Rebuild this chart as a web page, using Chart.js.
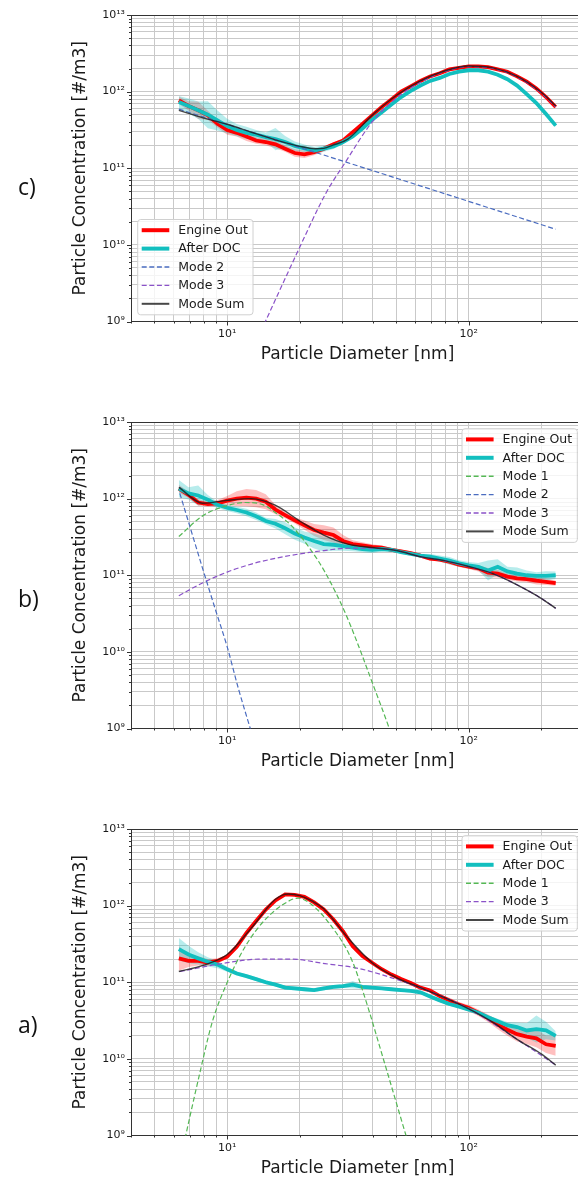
<!DOCTYPE html>
<html>
<head>
<meta charset="utf-8">
<script src="https://cdn.jsdelivr.net/npm/chart.js@4.4.1/dist/chart.umd.min.js"></script>
<style>
  html, body { margin:0; padding:0; background:#fff; overflow:hidden; }
  body { width:578px; height:1180px; position:relative; }
  .panel { position:absolute; left:0; }
  .tag { position:absolute; left:18px; font-family:"Open Sans", sans-serif; font-size:23px; color:#111; }
</style>
</head>
<body>
<div class="panel" style="top:0px"><canvas id="chartC" width="590" height="372"></canvas></div>
<div class="panel" style="top:407px"><canvas id="chartB" width="590" height="372"></canvas></div>
<div class="panel" style="top:814px"><canvas id="chartA" width="590" height="372"></canvas></div>
<div class="tag" style="top:170px">c)</div>
<div class="tag" style="top:582px">b)</div>
<div class="tag" style="top:1008px">a)</div>
<script>
// particle diameters [nm] of the measured spectra
const diam = [6.31, 6.92, 7.59, 8.32, 9.12, 10.0, 10.96, 12.02, 13.18, 14.45, 15.85, 17.38, 19.05, 20.89, 22.91, 25.12, 27.54, 30.2, 33.11, 36.31,
  39.81, 43.65, 47.86, 52.48, 57.54, 63.1, 69.18, 75.86, 83.18, 91.2, 100, 109.6, 120.2, 131.8, 144.5, 158.5, 173.8, 190.5, 208.9, 229.1];
const gridD = [6.31, 7.94, 10, 12.6, 15.8, 20, 25.1, 31.6, 39.8, 50.1, 63.1, 79.4, 100, 125.9, 158.5, 199.5, 229.1];

// ---- panel c ----
const cEngineOut = [7.7e11, 6.5e11, 5.7e11, 4.9e11, 3.8e11, 3.15e11, 2.9e11, 2.6e11, 2.3e11, 2.2e11, 2.05e11, 1.8e11, 1.58e11, 1.52e11, 1.62e11, 1.8e11, 2.05e11, 2.3e11, 2.95e11, 3.8e11,
  4.9e11, 6.3e11, 7.9e11, 1.0e12, 1.17e12, 1.38e12, 1.58e12, 1.74e12, 1.95e12, 2.04e12, 2.14e12, 2.14e12, 2.09e12, 1.95e12, 1.82e12, 1.58e12, 1.35e12, 1.1e12, 8.5e11, 6.3e11];
const cEngineOutSpread = [1.12, 1.15, 1.3, 1.15, 1.12, 1.15, 1.12, 1.15, 1.1, 1.1, 1.12, 1.1, 1.12, 1.12, 1.1, 1.08, 1.06, 1.05, 1.04, 1.04,
  1.04, 1.04, 1.04, 1.04, 1.04, 1.04, 1.04, 1.04, 1.04, 1.04, 1.04, 1.04, 1.04, 1.04, 1.04, 1.04, 1.04, 1.04, 1.04, 1.04];
const cAfterDoc = [7.3e11, 6.5e11, 5.7e11, 5.0e11, 4.2e11, 3.55e11, 3.15e11, 2.9e11, 2.75e11, 2.55e11, 2.4e11, 2.2e11, 1.95e11, 1.82e11, 1.7e11, 1.8e11, 1.93e11, 2.2e11, 2.6e11, 3.3e11,
  4.3e11, 5.4e11, 6.8e11, 8.5e11, 1.02e12, 1.2e12, 1.38e12, 1.51e12, 1.7e12, 1.82e12, 1.9e12, 1.9e12, 1.82e12, 1.66e12, 1.45e12, 1.2e12, 9.3e11, 7.1e11, 5.1e11, 3.6e11];
const cAfterDocSpread = [1.2, 1.25, 1.3, 1.5, 1.35, 1.25, 1.2, 1.2, 1.15, 1.15, 1.4, 1.2, 1.15, 1.12, 1.12, 1.1, 1.08, 1.06, 1.04, 1.04,
  1.04, 1.04, 1.04, 1.04, 1.04, 1.04, 1.04, 1.04, 1.04, 1.04, 1.04, 1.04, 1.04, 1.04, 1.04, 1.04, 1.04, 1.04, 1.04, 1.04];
const cSumD = [6.31, 7.94, 10, 12.6, 15.8, 20, 23.2, 25.1, 27.4, 31.6, 39.8, 50.1, 63.1, 79.4, 100, 125.9, 158.5, 199.5, 229.1];
const cSum = [5.7e11, 4.55e11, 3.75e11, 2.95e11, 2.35e11, 1.93e11, 1.8e11, 1.82e11, 2.0e11, 2.4e11, 4.9e11, 8.9e11, 1.38e12, 1.86e12, 2.16e12, 2.04e12, 1.58e12, 9.8e11, 6.5e11];
const cMode2D = [6.31, 20, 229.1];
const cMode2 = [5.9e11, 1.87e11, 1.6e10];
const cMode3D = [12.6, 14.4, 19.7, 25.7, 30.6, 39.8, 50.1, 63.1, 79.4, 100, 125.9, 158.5, 199.5, 229.1];
const cMode3 = [4e8, 1e9, 8.5e9, 4.8e10, 1.15e11, 4.0e11, 8.2e11, 1.32e12, 1.82e12, 2.12e12, 2.01e12, 1.56e12, 9.6e11, 6.35e11];

// ---- panel b ----
const bEngineOut = [1.35e12, 1.12e12, 8.9e11, 8.5e11, 8.7e11, 9.4e11, 1.0e12, 1.03e12, 1.0e12, 9.1e11, 7.2e11, 6.1e11, 5.2e11, 4.5e11, 3.9e11, 3.6e11, 3.35e11, 2.8e11, 2.55e11, 2.45e11,
  2.35e11, 2.3e11, 2.15e11, 2.05e11, 1.95e11, 1.8e11, 1.65e11, 1.6e11, 1.5e11, 1.38e11, 1.3e11, 1.23e11, 1.08e11, 1.05e11, 9.6e10, 9.1e10, 8.9e10, 8.5e10, 8.2e10, 7.9e10];
const bEngineOutSpread = [1.12, 1.1, 1.1, 1.08, 1.1, 1.15, 1.25, 1.3, 1.3, 1.25, 1.15, 1.1, 1.1, 1.15, 1.2, 1.25, 1.25, 1.2, 1.12, 1.1,
  1.08, 1.06, 1.06, 1.06, 1.05, 1.06, 1.06, 1.06, 1.08, 1.08, 1.08, 1.1, 1.15, 1.12, 1.1, 1.1, 1.1, 1.12, 1.1, 1.08];
const bAfterDoc = [1.35e12, 1.17e12, 1.1e12, 9.7e11, 8.3e11, 7.6e11, 7.1e11, 6.6e11, 5.9e11, 5.1e11, 4.7e11, 4.1e11, 3.5e11, 3.1e11, 2.8e11, 2.55e11, 2.5e11, 2.4e11, 2.3e11, 2.2e11,
  2.15e11, 2.2e11, 2.15e11, 2.0e11, 1.9e11, 1.8e11, 1.75e11, 1.65e11, 1.55e11, 1.43e11, 1.35e11, 1.29e11, 1.15e11, 1.29e11, 1.12e11, 1.05e11, 1.0e11, 9.8e10, 9.8e10, 1.0e11];
const bAfterDocSpread = [1.3, 1.2, 1.35, 1.15, 1.1, 1.1, 1.1, 1.12, 1.12, 1.1, 1.15, 1.2, 1.2, 1.2, 1.25, 1.25, 1.2, 1.15, 1.12, 1.1,
  1.1, 1.08, 1.06, 1.06, 1.06, 1.06, 1.08, 1.1, 1.12, 1.1, 1.1, 1.12, 1.35, 1.25, 1.15, 1.2, 1.15, 1.12, 1.15, 1.12];
const bSum = [1.4e12, 8.7e11, 9.5e11, 1.0e12, 8.2e11, 5.1e11, 3.35e11, 2.55e11, 2.3e11, 2.1e11, 1.75e11, 1.55e11, 1.3e11, 1.05e11, 7.5e10, 5.0e10, 3.7e10];
const bMode1D = [6.31, 7.94, 10, 11.9, 14.1, 15.8, 18.5, 22.3, 25.4, 30.6, 34.8, 39.4, 46.9, 52.4];
const bMode1 = [3.2e11, 6.0e11, 8.1e11, 8.9e11, 8.3e11, 6.6e11, 4.4e11, 2.1e11, 1.1e11, 3.4e10, 1.25e10, 4.4e9, 1.0e9, 3.5e8];
const bMode2D = [6.37, 7.0, 7.9, 8.96, 10, 11.17, 12.47, 13.5];
const bMode2 = [1.17e12, 4.4e11, 1.25e11, 3.5e10, 1.17e10, 3.2e9, 1.0e9, 4.4e8];
const bMode3 = [5.4e10, 8.0e10, 1.1e11, 1.4e11, 1.66e11, 1.9e11, 2.1e11, 2.25e11, 2.25e11, 2.1e11, 1.75e11, 1.55e11, 1.3e11, 1.05e11, 7.5e10, 5.0e10, 3.7e10];

// ---- panel a ----
const aEngineOut = [2.05e11, 1.9e11, 1.9e11, 1.8e11, 1.9e11, 2.15e11, 2.9e11, 4.4e11, 6.3e11, 8.9e11, 1.17e12, 1.4e12, 1.38e12, 1.3e12, 1.1e12, 8.9e11, 6.6e11, 4.6e11, 2.95e11, 2.2e11,
  1.8e11, 1.48e11, 1.26e11, 1.1e11, 9.8e10, 8.5e10, 7.8e10, 6.6e10, 5.8e10, 5.1e10, 4.6e10, 4.0e10, 3.4e10, 2.8e10, 2.4e10, 2.1e10, 1.95e10, 1.85e10, 1.55e10, 1.48e10];
const aEngineOutSpread = [1.45, 1.2, 1.15, 1.12, 1.08, 1.06, 1.05, 1.05, 1.05, 1.05, 1.04, 1.04, 1.04, 1.04, 1.04, 1.04, 1.04, 1.04, 1.04, 1.04,
  1.04, 1.04, 1.04, 1.04, 1.05, 1.05, 1.05, 1.06, 1.08, 1.08, 1.1, 1.1, 1.12, 1.15, 1.2, 1.25, 1.25, 1.3, 1.3, 1.35];
const aAfterDoc = [2.7e11, 2.3e11, 2.05e11, 1.85e11, 1.7e11, 1.48e11, 1.3e11, 1.2e11, 1.1e11, 1.0e11, 9.3e10, 8.5e10, 8.3e10, 8.1e10, 7.9e10, 8.3e10, 8.7e10, 8.9e10, 9.3e10, 8.7e10,
  8.5e10, 8.3e10, 8.1e10, 7.9e10, 7.7e10, 7.4e10, 6.5e10, 5.8e10, 5.2e10, 4.8e10, 4.4e10, 4.0e10, 3.5e10, 3.1e10, 2.75e10, 2.6e10, 2.35e10, 2.45e10, 2.35e10, 2.0e10];
const aAfterDocSpread = [1.4, 1.3, 1.2, 1.15, 1.12, 1.08, 1.06, 1.06, 1.06, 1.06, 1.06, 1.06, 1.06, 1.06, 1.06, 1.06, 1.06, 1.06, 1.12, 1.06,
  1.05, 1.05, 1.05, 1.05, 1.05, 1.05, 1.05, 1.05, 1.05, 1.05, 1.05, 1.05, 1.06, 1.08, 1.1, 1.15, 1.25, 1.5, 1.3, 1.15];
const aSumD = [6.31, 7.94, 10, 12.6, 15.8, 17.9, 20, 22.4, 25.1, 31.6, 39.8, 50.1, 63.1, 79.4, 100, 125.9, 158.5, 199.5, 229.1];
const aSum = [1.38e11, 1.66e11, 2.3e11, 5.1e11, 1.2e12, 1.42e12, 1.35e12, 1.15e12, 9.1e11, 3.8e11, 1.8e11, 1.15e11, 8.5e10, 6.3e10, 4.5e10, 3.0e10, 1.8e10, 1.16e10, 8.3e9];
const aMode1D = [6.3, 6.74, 7.66, 8.67, 10, 11.9, 14.4, 18.5, 19.7, 22.3, 27.0, 32.7, 37.0, 44.8, 55, 60];
const aMode1 = [3.7e8, 1e9, 6.0e9, 3.0e10, 9.9e10, 2.95e11, 6.6e11, 1.2e12, 1.25e12, 1.04e12, 5.4e11, 2.0e11, 6.6e10, 8.9e9, 1.0e9, 4e8];
const aMode3D = [6.37, 10, 13.5, 18.5, 25.4, 34.8, 47.6, 65.3, 100, 158.5, 229.1];
const aMode3 = [1.38e11, 1.8e11, 2.0e11, 2.0e11, 1.75e11, 1.52e11, 1.15e11, 8.1e10, 4.5e10, 1.8e10, 8.3e9];

// axis ticks
const xMajor = [10, 100];
const xMajorLabels = ['10¹', '10²'];
const xMinor = [4, 5, 6, 7, 8, 9, 20, 30, 40, 50, 60, 70, 80, 90, 200, 300];
const yMajor = [1e9, 1e10, 1e11, 1e12, 1e13];
const yMajorLabels = ['10⁹', '10¹⁰', '10¹¹', '10¹²', '10¹³'];
const yMinor = [];
[1e9, 1e10, 1e11, 1e12].forEach(d => { for (let m = 2; m <= 9; m++) yMinor.push(m * d); });

const RED = '#ff0000', CYAN = '#12bfbf';
const GREEN = '#55b855', BLUE = '#4a6cc0', PURPLE = '#8a52c8';
const FONT = '"DejaVu Sans", sans-serif';

function pts(xs, ys) { return xs.map((x, i) => ({x, y: ys[i]})); }

function measured(label, vals, spread, color, band, order) {
  return [
    {label, data: pts(diam, vals), borderColor: color, borderWidth: 3.8, legendWidth: 4, order},
    {data: pts(diam, vals.map((v, i) => v * spread[i])), borderWidth: 0, fill: '+1', backgroundColor: band, order: order + 2},
    {data: pts(diam, vals.map((v, i) => v / spread[i])), borderWidth: 0, order: order + 2}
  ];
}
function mode(label, xs, ys, color) {
  return {label, data: pts(xs, ys), borderColor: color, borderWidth: 1.2, borderDash: [5, 2.6], legendWidth: 1.4, cubicInterpolationMode: 'monotone', order: 1};
}
function modeSum(xs, ys) {
  return {label: 'Mode Sum', data: pts(xs, ys), borderColor: 'rgba(25,25,25,0.8)', borderWidth: 1.4, legendWidth: 2, cubicInterpolationMode: 'monotone', order: 0};
}

// top spine + matplotlib style tick marks
const frame = {
  id: 'frame',
  afterDraw(chart) {
    const {ctx, chartArea: a, scales: {x, y}} = chart;
    ctx.save();
    ctx.strokeStyle = '#333'; ctx.lineWidth = 1;
    ctx.beginPath();
    ctx.moveTo(a.left, Math.round(a.top) + 0.5); ctx.lineTo(a.right, Math.round(a.top) + 0.5);
    xMajor.concat(xMinor).forEach(v => {
      const px = Math.round(x.getPixelForValue(v)) + 0.5, len = xMajor.includes(v) ? 4 : 2;
      ctx.moveTo(px, a.bottom); ctx.lineTo(px, a.bottom + len);
    });
    yMajor.concat(yMinor).forEach(v => {
      const py = Math.round(y.getPixelForValue(v)) + 0.5, len = yMajor.includes(v) ? 4 : 2;
      ctx.moveTo(a.left, py); ctx.lineTo(a.left - len, py);
    });
    ctx.stroke();
    ctx.restore();
  }
};

// legend box drawn inside the plot area
const boxLegend = {
  id: 'boxLegend',
  afterDraw(chart, args, opts) {
    const {ctx, chartArea: a} = chart;
    const items = chart.data.datasets.filter(d => d.label);
    const w = 115.3, h = 10.7 + 18.4 * (items.length - 1) + 11;
    const x0 = opts.corner === 'lowerLeft' ? a.left + 6.7 : a.right - 6.7 - w;
    const y0 = opts.corner === 'lowerLeft' ? a.bottom - 6.7 - h : a.top + 6.7;
    ctx.save();
    ctx.beginPath();
    if (ctx.roundRect) ctx.roundRect(x0, y0, w, h, 3); else ctx.rect(x0, y0, w, h);
    ctx.fillStyle = 'rgba(255,255,255,0.8)'; ctx.fill();
    ctx.strokeStyle = '#d0d0d0'; ctx.lineWidth = 1; ctx.stroke();
    items.forEach((d, i) => {
      const yy = y0 + 10.7 + 18.4 * i;
      ctx.beginPath();
      ctx.setLineDash(d.borderDash || []);
      ctx.strokeStyle = d.borderColor; ctx.lineWidth = d.legendWidth;
      ctx.moveTo(x0 + 4, yy); ctx.lineTo(x0 + 31.6, yy); ctx.stroke();
      ctx.setLineDash([]);
      ctx.fillStyle = '#1a1a1a'; ctx.font = '12.5px ' + FONT; ctx.textBaseline = 'middle';
      ctx.fillText(d.label, x0 + 40.6, yy + 0.5);
    });
    ctx.restore();
  }
};

function makePanel(id, datasets, corner) {
  new Chart(document.getElementById(id), {
    type: 'line',
    data: {datasets},
    plugins: [frame, boxLegend],
    options: {
      responsive: false, animation: false, devicePixelRatio: 1,
      layout: {padding: {top: 15, right: 2, bottom: 0, left: 0}},
      elements: {point: {radius: 0}, line: {tension: 0, fill: false}},
      plugins: {legend: {display: false}, tooltip: {enabled: false}, boxLegend: {corner}},
      scales: {
        x: {
          type: 'logarithmic', min: 4, max: 300,
          afterBuildTicks: s => { s.ticks = xMajor.concat(xMinor).sort((p, q) => p - q).map(v => ({value: v})); },
          afterFit: s => { s.height = 50.5; },
          ticks: {autoSkip: false, maxRotation: 0, padding: 6, color: '#1a1a1a', font: {family: FONT, size: 11},
            callback: v => { const k = xMajor.indexOf(v); return k >= 0 ? xMajorLabels[k] : ''; }},
          grid: {color: '#c9c9c9', lineWidth: 1, drawTicks: false},
          border: {color: '#333', width: 1},
          title: {display: true, text: 'Particle Diameter [nm]', color: '#1a1a1a', font: {family: FONT, size: 17}, padding: {top: 0, bottom: 7.5}}
        },
        y: {
          type: 'logarithmic', min: 1e9, max: 1e13,
          afterBuildTicks: s => { s.ticks = yMajor.concat(yMinor).sort((p, q) => p - q).map(v => ({value: v})); },
          afterFit: s => { s.width = 131; },
          ticks: {autoSkip: false, padding: 6, color: '#1a1a1a', font: {family: FONT, size: 11},
            callback: v => { const k = yMajor.indexOf(v); return k >= 0 ? yMajorLabels[k] : ''; }},
          grid: {color: '#c9c9c9', lineWidth: 1, drawTicks: false},
          border: {color: '#333', width: 1},
          title: {display: true, text: 'Particle Concentration [#/m3]', color: '#1a1a1a', font: {family: FONT, size: 17}, padding: {top: 70.5, bottom: 0}}
        }
      }
    }
  });
}

makePanel('chartC', [
  ...measured('Engine Out', cEngineOut, cEngineOutSpread, RED, 'rgba(255,0,0,0.25)', 3),
  ...measured('After DOC', cAfterDoc, cAfterDocSpread, CYAN, 'rgba(18,191,191,0.3)', 2),
  mode('Mode 2', cMode2D, cMode2, BLUE),
  mode('Mode 3', cMode3D, cMode3, PURPLE),
  modeSum(cSumD, cSum)
], 'lowerLeft');

makePanel('chartB', [
  ...measured('Engine Out', bEngineOut, bEngineOutSpread, RED, 'rgba(255,0,0,0.25)', 3),
  ...measured('After DOC', bAfterDoc, bAfterDocSpread, CYAN, 'rgba(18,191,191,0.3)', 2),
  mode('Mode 1', bMode1D, bMode1, GREEN),
  mode('Mode 2', bMode2D, bMode2, BLUE),
  mode('Mode 3', gridD, bMode3, PURPLE),
  modeSum(gridD, bSum)
], 'upperRight');

makePanel('chartA', [
  ...measured('Engine Out', aEngineOut, aEngineOutSpread, RED, 'rgba(255,0,0,0.25)', 3),
  ...measured('After DOC', aAfterDoc, aAfterDocSpread, CYAN, 'rgba(18,191,191,0.3)', 2),
  mode('Mode 1', aMode1D, aMode1, GREEN),
  mode('Mode 3', aMode3D, aMode3, PURPLE),
  modeSum(aSumD, aSum)
], 'upperRight');
</script>
</body>
</html>
